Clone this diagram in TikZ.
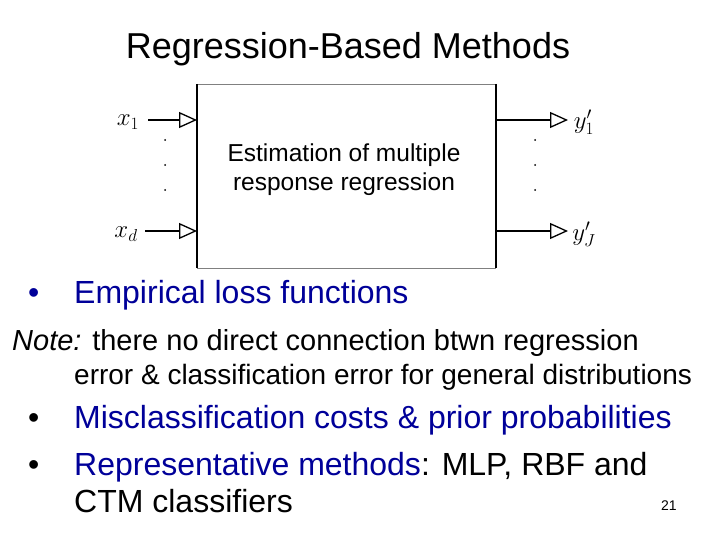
\documentclass[tikz,border=0pt]{standalone}
\usepackage{fontspec}
\setmainfont{Liberation Sans}
\newfontfamily\serifx{Liberation Serif}
\usetikzlibrary{positioning,arrows.meta}
\definecolor{itemblue}{RGB}{0,0,153}
\tikzset{
  sig/.style={-{Triangle[open,length=18pt,width=16pt,line width=1.3pt]},line width=1.3pt},
  var/.style={font=\serifx\fontsize{26}{28}\selectfont\itshape,inner sep=1pt},
  txt/.style={anchor=base west,inner sep=0pt},
}
\begin{document}
\begin{tikzpicture}[x=1pt,y=-1pt]
\useasboundingbox (0,0) rectangle (720,540);
\node[font=\fontsize{36}{38}\selectfont] (title) at (348,49) {Regression-Based Methods};
% block
\draw[gray,line width=0.8pt] (197,84) -- (496,84) (197,268) -- (496,268);
\draw[line width=2pt] (197,84) -- (197,268) (496,84) -- (496,268);
\node[align=center,font=\fontsize{24.5}{29}\selectfont] (est) at (344,170) {Estimation of multiple\\response regression};
\coordinate (in1) at (197,120);
\coordinate (ind) at (197,231);
\coordinate (out1) at (568,120);
\coordinate (outd) at (568,231);
\node[var] (x1) at (128,122) {$x_1$};
\node[var] (xd) at (126,234) {$x_d$};
\node[var] (y1) at (584,122) {$y'_1$};
\node[var] (yd) at (584,234) {$y'_J$};
\draw[sig] (148,120) -- (in1);
\draw[sig] (145,231) -- (ind);
\draw[sig] (496,120) -- (out1);
\draw[sig] (496,231) -- (outd);
\foreach \y in {140,165,190} {
  \fill (165,\y) circle (1pt);
  \fill (535,\y) circle (1pt);
}
% text
\node[txt,font=\fontsize{32}{34}\selectfont,text=itemblue] (b1) at (28,303) {\textbullet};
\node[txt,font=\fontsize{32}{34}\selectfont,text=itemblue] (t1) at (74,303) {Empirical loss functions};
\node[txt,font=\fontsize{29}{31}\selectfont] (n1) at (12,350) {\textit{Note:} there no direct connection btwn regression};
\node[txt,font=\fontsize{28}{30}\selectfont] (n2) at (74,384) {error \& classification error for general distributions};
\node[txt,font=\fontsize{32}{34}\selectfont] (b2) at (28,428) {\textbullet};
\node[txt,font=\fontsize{32}{34}\selectfont,text=itemblue] (t2) at (74,428) {Misclassification costs \& prior probabilities};
\node[txt,font=\fontsize{32}{34}\selectfont] (b3) at (28,475) {\textbullet};
\node[txt,font=\fontsize{32}{34}\selectfont] (t3) at (74,475) {\textcolor{itemblue}{Representative methods}: MLP, RBF and};
\node[txt,font=\fontsize{32}{34}\selectfont] (t4) at (74,512) {CTM classifiers};
\node[txt,font=\fontsize{14}{16}\selectfont] (pg) at (661,510) {21};
\end{tikzpicture}
\end{document}
